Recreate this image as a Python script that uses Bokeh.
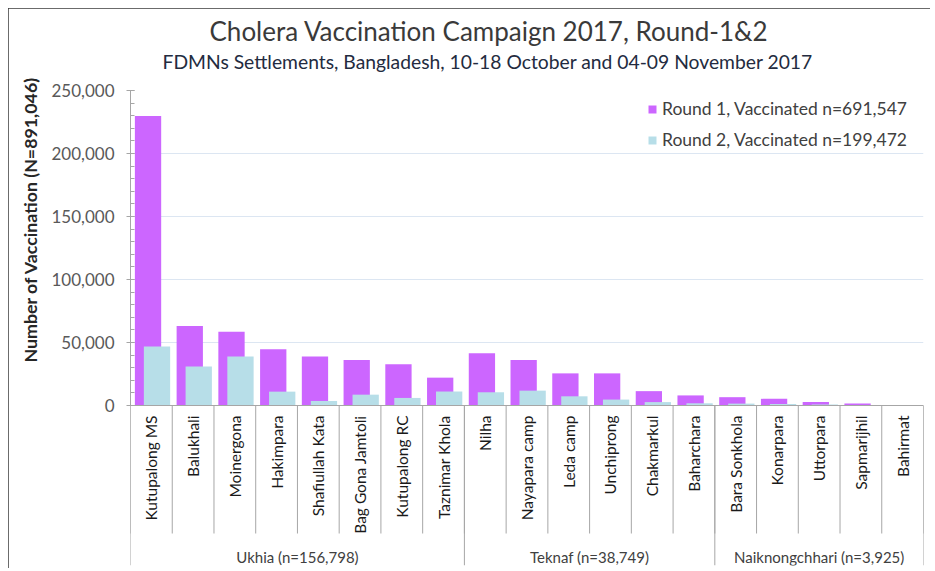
import math
from bokeh.plotting import figure
from bokeh.models import Range1d, FixedTicker, NumeralTickFormatter, Span, Title
from bokeh.core.properties import value
from bokeh.embed import file_html
from bokeh.resources import INLINE

# ---------------- data ----------------
title_text = "Cholera Vaccination Campaign 2017, Round-1&2"
subtitle_text = "FDMNs Settlements, Bangladesh, 10-18 October and 04-09 November 2017"
y_label = "Number of Vaccination (N=891,046)"

categories = ["Kutupalong MS", "Balukhali", "Moinergona", "Hakimpara", "Shafiullah Kata",
              "Bag Gona Jamtoli", "Kutupalong RC", "Taznimar Khola", "Nilha", "Nayapara camp",
              "Leda camp", "Unchiprong", "Chakmarkul", "Baharchara", "Bara Sonkhola",
              "Konarpara", "Uttorpara", "Sapmarijhil", "Bahirmat"]
groups = ["Ukhia (n=156,798)", "Teknaf (n=38,749)", "Naiknongchhari (n=3,925)"]
group_sizes = [8, 6, 5]
round1 = [229800, 63100, 58600, 44600, 38800, 36100, 32700, 22100, 41400, 36100,
          25500, 25500, 11400, 8000, 6600, 5300, 2800, 1600, 300]
round2 = [46800, 30900, 38800, 11000, 3600, 8600, 6000, 11100, 10500, 11800,
          7300, 4700, 2700, 1750, 1500, 1200, 800, 350, 75]
series_names = ["Round 1, Vaccinated n=691,547", "Round 2, Vaccinated n=199,472"]
y_ticks = [0, 50000, 100000, 150000, 200000, 250000]
y_minor_ticks = [10000 * k for k in range(26)]
y_max = 250000

# ---------------- layout ----------------
FONT = "Lato"
W, H = 922, 560
LEFT, RIGHT, TOP, BOTTOM = 120, 7, 82, 3
frame_w = W - LEFT - RIGHT
frame_h = H - TOP - BOTTOM
above_px = 315
below_px = frame_h - above_px
ypp = y_max / above_px
y_min = -below_px * ypp

n = len(categories)
p = figure(width=W, height=H, x_range=Range1d(0, n), y_range=Range1d(y_min, y_max),
           output_backend="svg", toolbar_location=None, title=None, x_axis_type=None,
           min_border_left=LEFT, min_border_right=RIGHT, min_border_top=TOP,
           min_border_bottom=BOTTOM)
p.margin = (8, 0, 0, 8)
p.styles = {"outline": "1px solid #3a3a3a", "outline-offset": "-1px"}
p.outline_line_color = None
p.background_fill_color = "white"

# titles (stacked upward from the frame: spacer, subtitle, title)
spacer = Title(text=" ", text_font_size="1px", standoff=14.5)
sub = Title(text=subtitle_text, align="left", offset=32, text_font=FONT,
            text_font_size="19.3px", text_font_style="normal", text_color="#232B40", standoff=0)
main = Title(text=title_text, align="left", offset=79, text_font=FONT, text_font_size="26px",
             text_font_style="normal", text_color="#3a3a3a", standoff=1)
p.add_layout(spacer, "above")
p.add_layout(sub, "above")
p.add_layout(main, "above")

# y axis
yax = p.yaxis[0]
yax.ticker = FixedTicker(ticks=y_ticks, minor_ticks=y_minor_ticks)
yax.bounds = (0, y_max)
yax.formatter = NumeralTickFormatter(format="0,0")
yax.major_label_text_font = FONT
yax.major_label_text_font_size = "17px"
yax.major_label_text_color = "#595959"
yax.major_label_standoff = 12
yax.axis_line_color = "#A6A6A6"
yax.major_tick_line_color = "#A6A6A6"
yax.minor_tick_line_color = "#A6A6A6"
yax.major_tick_in = 4
yax.major_tick_out = 4
yax.minor_tick_in = 4
yax.minor_tick_out = 0

# y axis title on the left side, starting 42 px above the zero line
ytitle = Title(text=y_label, align="left", offset=below_px + 43, text_font=FONT,
               text_font_size="17.8px", text_font_style="bold", text_color="#262626",
               standoff=16)
p.add_layout(ytitle, "left")

p.ygrid.ticker = FixedTicker(ticks=y_ticks[1:])
p.ygrid.grid_line_color = "#DCE6F2"
p.ygrid.grid_line_width = 1

# bars
idx = list(range(n))
x1 = [i + 0.42 for i in idx]
x2 = [i + 0.635 for i in idx]
p.vbar(x=x1, top=round1, bottom=0, width=0.63, fill_color="#CC66FF", line_color=None,
       legend_label=series_names[0])
p.vbar(x=x2, top=round2, bottom=0, width=0.63, fill_color="#B7DEE8", line_color=None,
       legend_label=series_names[1])

# zero line
p.add_layout(Span(location=0, dimension="width", line_color="#A6A6A6", line_width=1))

# category separators
bounds_all = list(range(n + 1))
p.segment(x0=bounds_all, y0=[0] * len(bounds_all), x1=bounds_all,
          y1=[-128 * ypp] * len(bounds_all), line_color="#A6A6A6", line_width=1)
gb = [0]
for s in group_sizes:
    gb.append(gb[-1] + s)
p.segment(x0=gb, y0=[0] * len(gb), x1=gb, y1=[y_min] * len(gb),
          line_color="#A6A6A6", line_width=1)

# category labels
p.text(x=[i + 0.5 for i in idx], y=[-10 * ypp] * n, text=categories, angle=math.pi / 2,
       text_align="right", text_baseline="middle", text_font=value(FONT),
       text_font_size="15.5px", text_color="#1a1a1a")

# group labels
gx = [(gb[k] + gb[k + 1]) / 2 for k in range(len(groups))]
p.text(x=gx, y=[-(below_px - 9) * ypp] * len(groups), text=groups, text_align="center",
       text_baseline="middle", text_font=value(FONT), text_font_size="15px",
       text_color="#404040")

# legend
LEG_W, LEG_H = 259, 52
lg = p.legend[0]
lg.location = (frame_w - 19 - LEG_W, frame_h - 8 - LEG_H)
lg.border_line_color = None
lg.background_fill_alpha = 0
lg.margin = 0
lg.padding = 0
lg.spacing = 10
lg.label_height = 20
lg.glyph_width = 10
lg.glyph_height = 10
lg.label_standoff = 5
lg.label_text_font = FONT
lg.label_text_font_size = "17.5px"
lg.label_text_color = "#404040"

open("out.html", "w").write(file_html(p, INLINE))
